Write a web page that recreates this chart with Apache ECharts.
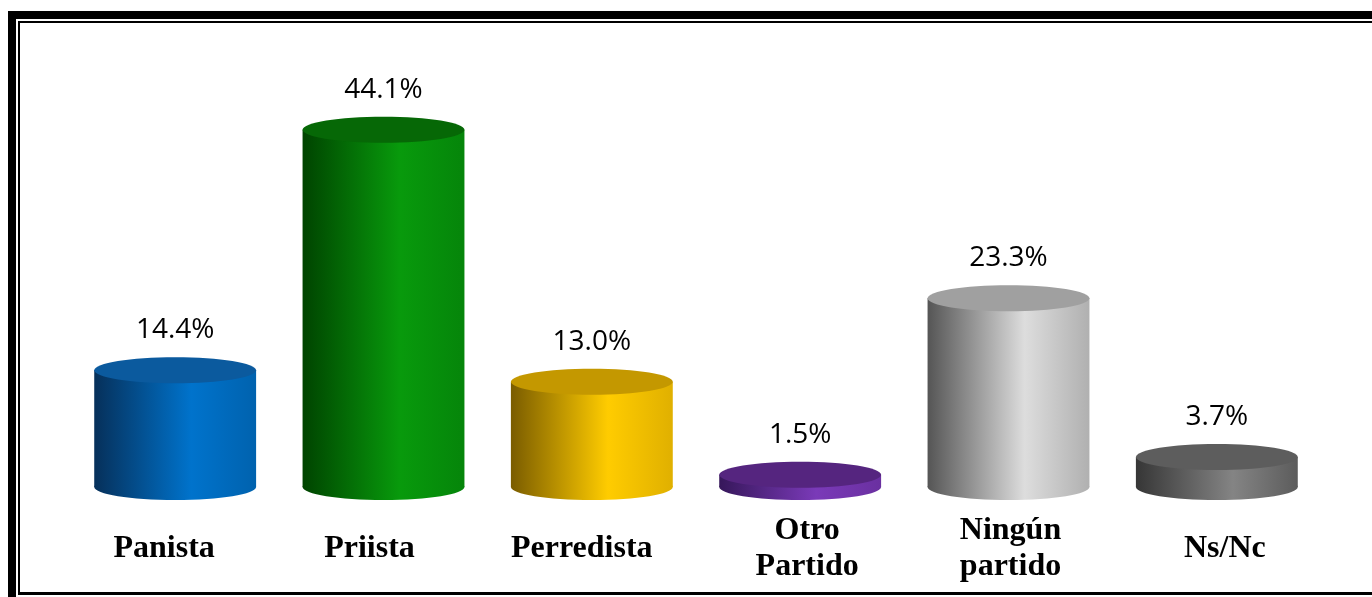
<!DOCTYPE html>
<html lang="es">
<head>
    <meta charset="UTF-8">
    <title>Identificación partidista</title>
    <script src="https://cdn.jsdelivr.net/npm/echarts@6/dist/echarts.min.js"></script>
    <style>
        html, body { margin: 0; padding: 0; background: #fff; }
    </style>
</head>
<body>
<div id="main" style="width: 1372px;height:597px;"></div>

<script type="text/javascript">
    // categorías y valores (%)
    var categorias = ['Panista', 'Priista', 'Perredista', 'Otro\nPartido', 'Ningún\npartido', 'Ns/Nc'];
    var valores = [14.4, 44.1, 13.0, 1.5, 23.3, 3.7];
    var etiquetas = ['14.4%', '44.1%', '13.0%', '1.5%', '23.3%', '3.7%'];

    // colores de cada cilindro: [oscuro, brillo, borde derecho, tapa]
    var colores = [
        ['#06305a', '#0073cc', '#0062ae', '#0b5a9e'],
        ['#004400', '#089a0c', '#05850a', '#066806'],
        ['#7a5c00', '#ffcc00', '#e0b000', '#c49800'],
        ['#36175a', '#7a3ab8', '#6a30a0', '#55257f'],
        ['#555555', '#dddddd', '#b0b0b0', '#a0a0a0'],
        ['#363636', '#848484', '#5c5c5c', '#5d5d5d']
    ];
    // pequeño corrimiento horizontal de cada etiqueta del eje (px)
    var corrimiento = [-11, -14, -10, 7, 2, 8];

    function gradiente(c) {
        return new echarts.graphic.LinearGradient(0, 0, 1, 0, [
            {offset: 0, color: c[0]},
            {offset: 0.6, color: c[1]},
            {offset: 1, color: c[2]}
        ]);
    }

    var ejeX = categorias.map(function (nombre, i) {
        var d = corrimiento[i];
        return {
            value: nombre,
            textStyle: {
                verticalAlign: 'middle',
                lineHeight: 36,
                padding: d < 0 ? [0, -2 * d, 0, 0] : [0, 0, 0, 2 * d]
            }
        };
    });

    var myChart = echarts.init(document.getElementById('main'));

    myChart.setOption({
        animation: false,
        grid: {left: 71, right: 51, top: 82, bottom: 110, containLabel: false, outerBoundsMode: 'none'},
        xAxis: {
            type: 'category',
            data: ejeX,
            axisLine: {show: false},
            axisTick: {show: false},
            axisLabel: {
                interval: 0,
                margin: 62,
                verticalAlign: 'middle',
                color: '#000',
                fontFamily: 'Liberation Serif',
                fontWeight: 'bold',
                fontSize: 32,
                lineHeight: 36
            }
        },
        yAxis: {
            type: 'value',
            min: 0,
            max: 50,
            show: false,
            splitLine: {show: false}
        },
        // marco doble
        graphic: [
            {type: 'rect', shape: {x: 8, y: 11, width: 1400, height: 8}, style: {fill: '#000'}},
            {type: 'rect', shape: {x: 8, y: 11, width: 8, height: 600}, style: {fill: '#000'}},
            {type: 'rect', shape: {x: 18, y: 21, width: 1400, height: 2}, style: {fill: '#000'}},
            {type: 'rect', shape: {x: 18, y: 21, width: 2, height: 574}, style: {fill: '#000'}},
            {type: 'rect', shape: {x: 18, y: 592, width: 1400, height: 3}, style: {fill: '#000'}}
        ],
        series: [{
            type: 'custom',
            data: valores.map(function (v, i) { return [i, v]; }),
            encode: {x: 0, y: 1},
            renderItem: function (params, api) {
                var i = params.dataIndex;
                var tope = api.coord([api.value(0), api.value(1)]);
                var base = api.coord([api.value(0), 0]);
                var w = api.size([1, 0])[0] * 0.777;
                var rx = w / 2, ry = 13;
                var c = colores[i];
                return {
                    type: 'group',
                    children: [
                        {
                            type: 'ellipse',
                            shape: {cx: base[0], cy: base[1], rx: rx, ry: ry},
                            style: {fill: gradiente(c)}
                        },
                        {
                            type: 'rect',
                            shape: {x: base[0] - rx, y: tope[1], width: w, height: base[1] - tope[1]},
                            style: {fill: gradiente(c)}
                        },
                        {
                            type: 'ellipse',
                            shape: {cx: tope[0], cy: tope[1], rx: rx, ry: ry},
                            style: {fill: c[3]}
                        },
                        {
                            type: 'text',
                            x: tope[0],
                            y: tope[1] - 40,
                            style: {
                                text: etiquetas[i],
                                fill: '#000',
                                font: '28px "Open Sans"',
                                textAlign: 'center',
                                textVerticalAlign: 'middle'
                            }
                        }
                    ]
                };
            }
        }]
    });
</script>
</body>
</html>
